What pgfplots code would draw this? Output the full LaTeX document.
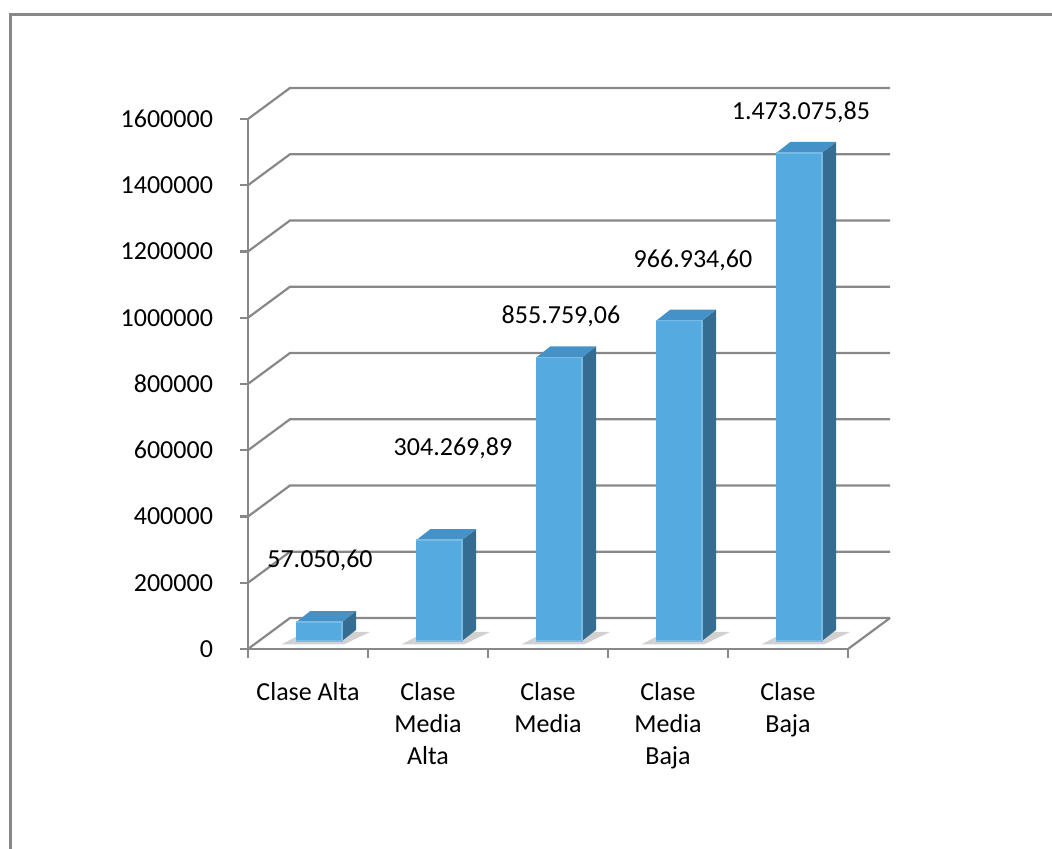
\documentclass[border=0pt]{standalone}
\usepackage{pgfplots}
\pgfplotsset{compat=1.18}
\usepackage{pgfplotstable}
\usepackage{fontspec}
\setmainfont{Carlito}
\definecolor{gridgray}{HTML}{888888}
\definecolor{barfront}{HTML}{55AADF}
\definecolor{barside}{HTML}{356D92}
\definecolor{bartop}{HTML}{4592C8}

% bar values
\pgfplotstableread{
x v
0.5 57050.60
1.5 304269.89
2.5 855759.06
3.5 966934.60
4.5 1473075.85
}\datatable

% data label positions
\pgfplotstableread{
x y t
0.6 268700 57.050,60
1.708 606800 304.269,89
2.608 1005300 855.759,06
3.708 1174400 966.934,60
4.608 1621200 1.473.075,85
}\labeltable

% face geometry (a: x offset, b: multiple of value, c: depth offset)
\pgfplotstableread{
a b c
-0.098 0 24300
0.283 0 24300
0.283 1 24300
-0.098 1 24300
}\frontverts
\pgfplotstableread{
a b c
0.283 0 24300
0.400 0 57500
0.400 1 57500
0.283 1 24300
}\sideverts
\pgfplotstableread{
a b c
-0.098 1 24300
0.283 1 24300
0.400 1 57500
0.019 1 57500
}\topverts
\pgfplotstableread{
a b c
-0.22 0 14000
0.30 0 14000
0.52 0 52000
-0.02 0 52000
}\shadowverts

\newcommand{\threedbar}[2]{%
  \addplot[draw=none, fill=black, opacity=0.18] table[x expr=#1+\thisrow{a}, y expr=\thisrow{b}*#2+\thisrow{c}] {\shadowverts};
  \addplot[draw=none, fill=barside] table[x expr=#1+\thisrow{a}, y expr=\thisrow{b}*#2+\thisrow{c}] {\sideverts};
  \addplot[draw=none, fill=bartop] table[x expr=#1+\thisrow{a}, y expr=\thisrow{b}*#2+\thisrow{c}] {\topverts};
  \addplot[draw=barfront!80!white, line width=0.7pt, fill=barfront] table[x expr=#1+\thisrow{a}, y expr=\thisrow{b}*#2+\thisrow{c}] {\frontverts};
}

\begin{document}
\fontsize{13}{16}\selectfont
\begin{tikzpicture}
\useasboundingbox (-124pt,-100pt) rectangle (402pt,324.5pt);
\draw[gridgray, line width=1.5pt] (-118.5pt,-110pt) -- (-118.5pt,317pt) -- (410pt,317pt);
\begin{axis}[
  at={(0,0)}, anchor=origin,
  scale only axis, width=300pt, height=265pt,
  xmin=0, xmax=5, ymin=0, ymax=1600000,
  clip=false,
  axis x line*=bottom, axis y line*=left,
  axis line style={gridgray, line width=1.1pt, -},
  every tick/.style={gridgray, line width=1.1pt},
  tick align=outside,
  xtick={0.5,1.5,2.5,3.5,4.5},
  xticklabels={Clase Alta, {Clase\\Media\\Alta}, {Clase\\Media}, {Clase\\Media\\Baja}, {Clase\\Baja}},
  major x tick style={draw=none},
  minor xtick={0,1,2,3,4,5},
  minor tick length=4.5pt,
  major tick length=4pt,
  ytick={0,200000,400000,600000,800000,1000000,1200000,1400000,1600000},
  yticklabels={0,200000,400000,600000,800000,1000000,1200000,1400000,1600000},
  scaled y ticks=false,
  /pgf/number format/assume math mode=true,
  xticklabel style={align=center, yshift=-8pt, font=\fontsize{13}{16}\selectfont},
  yticklabel style={xshift=-9pt, font=\fontsize{13}{16}\selectfont},
]
% back wall and left wall grid
\addplot[gridgray, line width=1.1pt] coordinates {(0,0) (0.35,93600) (5.35,93600)};
\addplot[gridgray, line width=1.1pt] coordinates {(5,0) (5.35,93600)};
\addplot[gridgray, line width=1.1pt] coordinates {(0,200000) (0.35,293600) (5.35,293600)};
\addplot[gridgray, line width=1.1pt] coordinates {(0,400000) (0.35,493600) (5.35,493600)};
\addplot[gridgray, line width=1.1pt] coordinates {(0,600000) (0.35,693600) (5.35,693600)};
\addplot[gridgray, line width=1.1pt] coordinates {(0,800000) (0.35,893600) (5.35,893600)};
\addplot[gridgray, line width=1.1pt] coordinates {(0,1000000) (0.35,1093600) (5.35,1093600)};
\addplot[gridgray, line width=1.1pt] coordinates {(0,1200000) (0.35,1293600) (5.35,1293600)};
\addplot[gridgray, line width=1.1pt] coordinates {(0,1400000) (0.35,1493600) (5.35,1493600)};
\addplot[gridgray, line width=1.1pt] coordinates {(0,1600000) (0.35,1693600) (5.35,1693600)};
% bars
\threedbar{0.5}{57050.60}
\threedbar{1.5}{304269.89}
\threedbar{2.5}{855759.06}
\threedbar{3.5}{966934.60}
\threedbar{4.5}{1473075.85}
% data labels
\addplot[draw=none, mark=none, nodes near coords, point meta=explicit symbolic,
  every node near coord/.append style={anchor=center, font=\fontsize{13}{16}\selectfont, text=black}]
  table[x=x, y=y, meta=t] {\labeltable};
\end{axis}
\end{tikzpicture}
\end{document}
